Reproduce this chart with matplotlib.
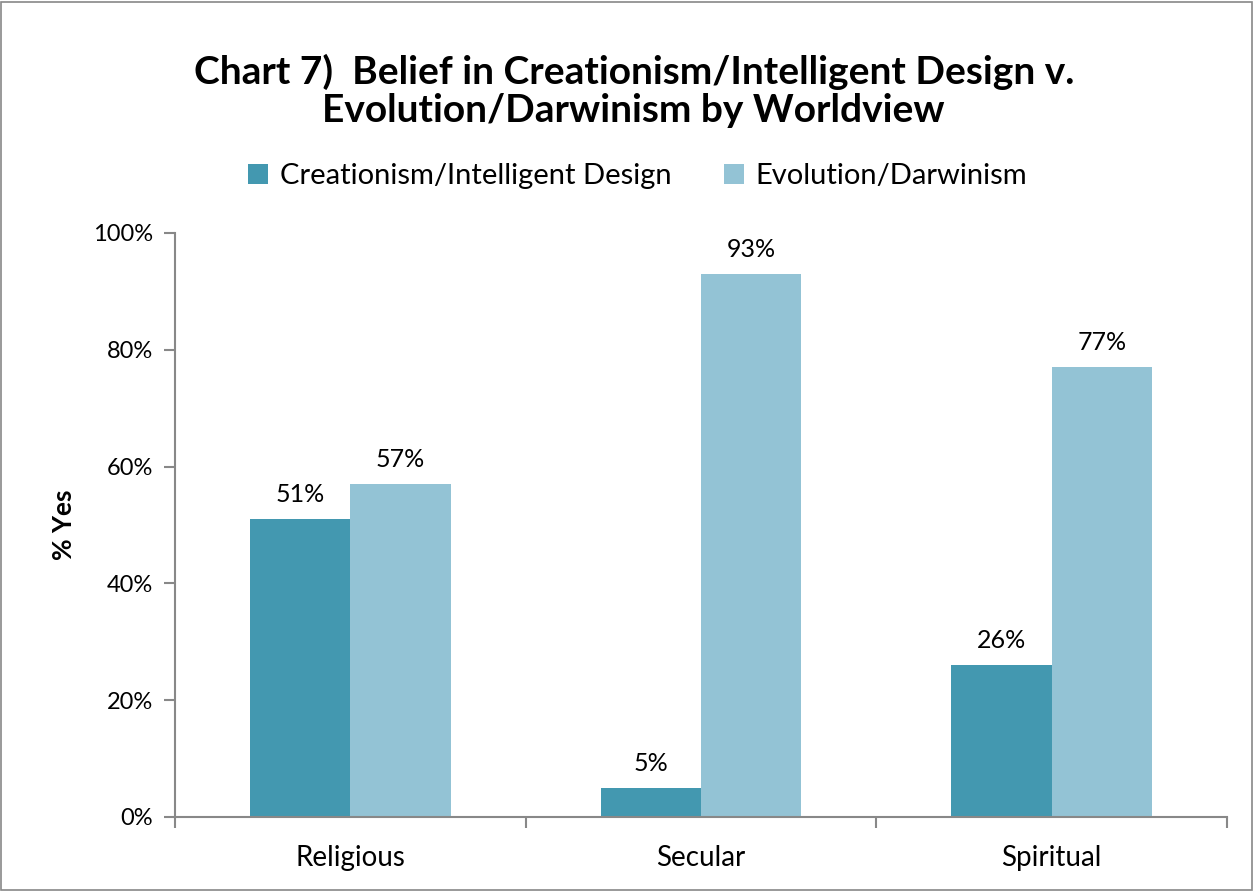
import numpy as np
import matplotlib.pyplot as plt
from matplotlib.patches import Rectangle
from matplotlib.ticker import FuncFormatter

plt.rcParams['font.family'] = ['Lato', 'DejaVu Sans']

# data
groups = ['Religious', 'Secular', 'Spiritual']
creation = [51, 5, 26]
evolution = [57, 93, 77]
series_names = ['Creationism/Intelligent Design', 'Evolution/Darwinism']
colors = ['#4398B0', '#93C3D5']

fig = plt.figure(figsize=(12.55, 8.91), dpi=100)
ax = fig.add_axes([0.1394, 0.0831, 0.8383, 0.6554])

x = np.arange(len(groups))
w = 0.286
b1 = ax.bar(x - w/2, creation, w, color=colors[0], label=series_names[0])
b2 = ax.bar(x + w/2, evolution, w, color=colors[1], label=series_names[1])

# value labels above bars
for bars, vals in [(b1, creation), (b2, evolution)]:
    for r, v in zip(bars, vals):
        ax.text(r.get_x() + r.get_width()/2, v + 2.2, '%d%%' % v,
                ha='center', va='bottom', fontsize=18)

ax.set_xlim(-0.5, 2.5)
ax.set_ylim(0, 100)
ax.set_yticks(range(0, 101, 20))
ax.yaxis.set_major_formatter(FuncFormatter(lambda v, p: '%d%%' % v))
# x ticks sit between the categories
ax.set_xticks([-0.5, 0.5, 1.5, 2.5])
ax.set_xticklabels([])
for i, g in enumerate(groups):
    ax.text(i, -4.8, g, ha='center', va='top', fontsize=20)

for s in ['top', 'right']:
    ax.spines[s].set_visible(False)
for s in ['left', 'bottom']:
    ax.spines[s].set_color('#888888')
    ax.spines[s].set_linewidth(1.5)
ax.tick_params(axis='y', direction='out', length=8, width=1.5, color='#888888',
               labelsize=17, pad=8)
ax.tick_params(axis='x', direction='out', length=8, width=1.5, color='#888888')

ax.set_ylabel('% Yes', fontsize=19, fontweight='bold', labelpad=12)

fig.text(0.505, 0.898, 'Chart 7)  Belief in Creationism/Intelligent Design v.\nEvolution/Darwinism by Worldview',
         ha='center', va='center', fontsize=28, fontweight='bold', linespacing=1.13)

leg = fig.legend(handles=[b1, b2], loc='center', bbox_to_anchor=(0.508, 0.802), ncol=2,
                 frameon=False, fontsize=21, handlelength=0.7, handleheight=0.7,
                 columnspacing=1.8, handletextpad=0.4)

# thin border round the whole chart
fig.patches.append(Rectangle((0.001, 0.001), 0.997, 0.997, transform=fig.transFigure,
                             fill=False, edgecolor='#888888', linewidth=1.2))

plt.savefig('out.png', dpi=100)
